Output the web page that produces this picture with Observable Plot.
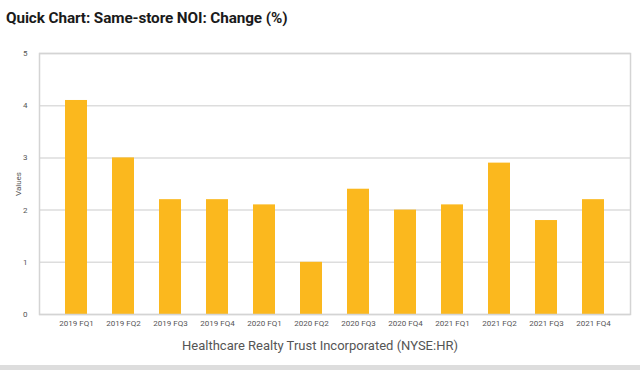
<!DOCTYPE html>
<html><head><meta charset="utf-8">
<script src="https://cdn.jsdelivr.net/npm/d3@7"></script>
<script src="https://cdn.jsdelivr.net/npm/@observablehq/plot@0.6"></script>
<style>
body{margin:0;background:#fff;font-family:Roboto,"Open Sans",sans-serif;width:640px;height:370px;overflow:hidden;position:relative}
#title{position:absolute;left:6px;top:9px;font-size:15.3px;font-weight:bold;color:#1a1a1a;letter-spacing:-0.1px}
#chart{position:absolute;left:0;top:36px}
#caption{position:absolute;left:0;width:640px;top:338px;text-align:center;font-size:13px;color:#555}
#bar{position:absolute;left:0;top:365px;width:640px;height:5px;background:#ddd}
</style></head>
<body>
<div id="title">Quick Chart: Same-store NOI: Change (%)</div>
<div id="chart"></div>
<div id="caption">Healthcare Realty Trust Incorporated (NYSE:HR)</div>
<div id="bar"></div>
<script>
const quarters = ["2019 FQ1","2019 FQ2","2019 FQ3","2019 FQ4","2020 FQ1","2020 FQ2","2020 FQ3","2020 FQ4","2021 FQ1","2021 FQ2","2021 FQ3","2021 FQ4"];
const values = [4.1, 3.0, 2.2, 2.2, 2.1, 1.0, 2.4, 2.0, 2.1, 2.9, 1.8, 2.2];
const yTicks = [0,1,2,3,4,5];
const data = quarters.map((q,i)=>({q, v: values[i]}));
const chart = Plot.plot({
  width: 640, height: 300,
  marginLeft: 39, marginRight: 10, marginTop: 17, marginBottom: 22,
  style: {fontFamily: "Roboto, sans-serif", fontSize: "8px", color: "#555"},
  x: {domain: quarters, padding: 0.53, label: null, tickSize: 0, tickPadding: 6},
  y: {domain: [0,5], ticks: yTicks, tickFormat: "d", label: "Values", labelAnchor: "center", labelOffset: 24, labelArrow: "none", tickSize: 0, tickPadding: 12},
  marks: [
    Plot.ruleY(yTicks, {stroke: "#ddd", strokeWidth: 1.5}),
    Plot.barY(data, {x: "q", y: "v", fill: "#FBB81E"}),
    Plot.frame({stroke: "#d4d4d4", strokeWidth: 1.5})
  ]
});
document.getElementById("chart").appendChild(chart);
</script>
</body></html>
